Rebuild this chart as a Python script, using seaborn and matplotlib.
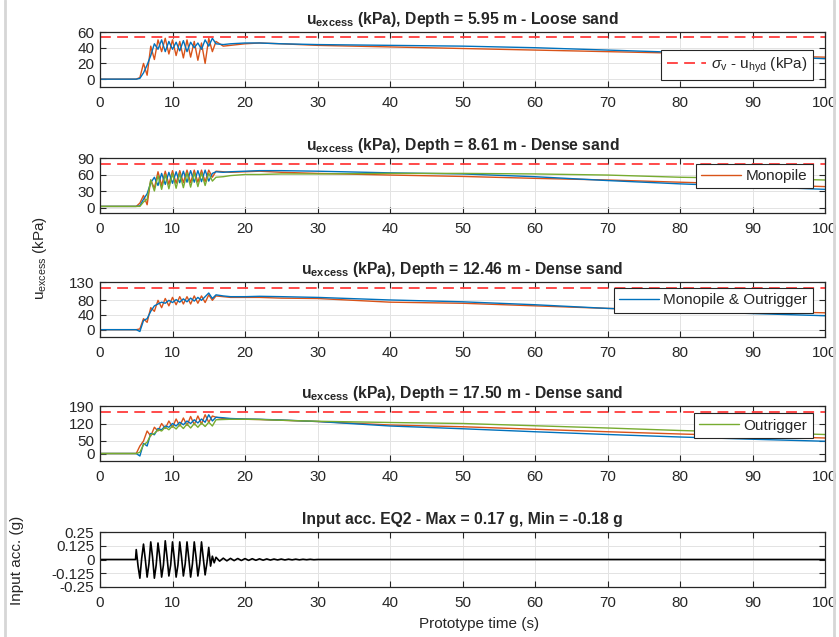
import matplotlib
matplotlib.use("Agg")
import matplotlib.pyplot as plt
import seaborn as sns
from matplotlib.lines import Line2D

# ---------------- data ----------------
T = [0, 5.0, 5.5, 6.0, 6.5, 7.0, 7.5, 8.0, 8.5, 9.0, 9.5, 10.0, 10.5, 11.0, 11.5,
     12.0, 12.5, 13.0, 13.5, 14.0, 14.5, 15.0, 15.5, 16.0,
     17, 18, 20, 22, 25, 30, 40, 50, 60, 70, 80, 90, 100]

# Depth 5.95 m - Loose sand
d1_monopile = [0, 0, 2, 20, 5, 42, 25, 50, 35, 52, 32, 50, 30, 48, 27, 50, 28, 48, 24, 46, 20, 52, 35, 48,
               42, 43, 45, 46, 45, 43, 41, 39, 37, 35, 33, 30, 28]
d1_mono_outr = [0, 0, 1, 8, 18, 30, 45, 38, 50, 35, 48, 38, 47, 36, 49, 35, 47, 40, 46, 38, 50, 42, 52, 45,
                44, 45, 46, 46, 45, 44, 43, 42, 40, 37, 34, 30, 26]
# Depth 8.61 m - Dense sand
d2_monopile = [2, 2, 8, 22, 5, 50, 35, 65, 40, 66, 42, 67, 44, 67, 45, 68, 45, 68, 46, 68, 47, 68, 55, 66,
               65, 64, 65, 66, 64, 62, 59, 56.5, 53, 50, 46, 42, 38]
d2_mono_outr = [2, 2, 3, 15, 25, 45, 55, 40, 62, 42, 64, 44, 65, 45, 66, 46, 67, 46, 67, 47, 68, 48, 62, 65,
                64, 65, 66, 67, 67, 66, 63, 61, 56, 49, 43, 38, 33]
d2_outrigger = [2, 2, 2, 10, 15, 50, 30, 58, 33, 60, 34, 62, 35, 62, 36, 63, 37, 63, 38, 63, 40, 62, 48, 55,
                56, 58, 60, 60, 61, 61, 62, 62, 61, 59, 55, 53, 50]
# Depth 12.46 m - Dense sand
d3_monopile = [0, 0, 2, 30, 20, 60, 50, 80, 60, 85, 65, 88, 68, 90, 70, 90, 70, 92, 72, 92, 74, 95, 80, 92,
               90, 88, 88, 88, 86, 85, 75, 72, 65, 58, 54, 50, 46]
d3_mono_outr = [0, 0, -5, 25, 30, 50, 65, 70, 75, 72, 80, 74, 82, 75, 84, 76, 86, 78, 88, 80, 90, 100, 85, 95,
                92, 90, 90, 91, 90, 88, 81, 76, 68, 58, 50, 44, 38]
# Depth 17.50 m - Dense sand
d4_monopile = [0, 0, 30, 50, 90, 70, 105, 90, 120, 100, 130, 105, 138, 110, 142, 112, 148, 115, 150, 118, 155, 125, 150, 145,
               140, 138, 137, 136, 133, 128, 114, 107, 97, 87, 78, 70, 62]
d4_mono_outr = [0, 0, -10, 40, 30, 80, 75, 100, 95, 110, 105, 120, 110, 125, 115, 130, 120, 135, 122, 138, 125, 155, 130, 145,
                143, 140, 138, 137, 134, 128, 110, 99, 87, 76, 66, 57, 49]
d4_outrigger = [0, 0, 5, 35, 45, 75, 80, 95, 90, 105, 95, 110, 98, 115, 100, 118, 102, 120, 105, 122, 108, 125, 110, 135,
                136, 137, 137, 136, 133, 129, 124, 120, 111, 102, 92, 84, 76]

# effective vertical stress (sigma_v - u_hyd) per depth
sigma_eff = [53.6, 78.7, 114.5, 167.0]

depth_titles = [
    r"u$_{\mathbf{excess}}$ (kPa), Depth = 5.95 m - Loose sand",
    r"u$_{\mathbf{excess}}$ (kPa), Depth = 8.61 m - Dense sand",
    r"u$_{\mathbf{excess}}$ (kPa), Depth = 12.46 m - Dense sand",
    r"u$_{\mathbf{excess}}$ (kPa), Depth = 17.50 m - Dense sand",
]
yticks_list = [[0, 20, 40, 60], [0, 30, 60, 90], [0, 40, 80, 130], [0, 50, 120, 190]]
ylims_list = [(-10, 60), (-10, 90), (-20, 130), (-30, 190)]

acc_time = [0.0, 4.9, 5.0, 5.25, 5.5, 5.75, 6.0, 6.25, 6.5, 6.75, 7.0, 7.25, 7.5, 7.75, 8.0, 8.25, 8.5, 8.75,
            9.0, 9.25, 9.5, 9.75, 10.0, 10.25, 10.5, 10.75, 11.0, 11.25, 11.5, 11.75, 12.0, 12.25, 12.5, 12.75,
            13.0, 13.25, 13.5, 13.75, 14.0, 14.25, 14.5, 14.75, 15.0, 15.25, 15.5, 15.75, 16.0,
            16.5, 17.0, 17.5, 18.0, 18.5, 19.0, 19.5, 20.0, 20.5, 21.0, 21.5, 22.0, 22.5, 23.0, 23.5, 24.0,
            24.5, 25.0, 25.5, 26.0, 26.5, 27.0, 27.5, 28.0, 28.5, 29.0, 29.5, 30.0, 100.0]
acc_g = [0.0, 0.0,
         0.09, -0.06, -0.17, 0.01, 0.14, 0.00, -0.16, -0.04, 0.16, 0.02, -0.17, -0.05, 0.15, 0.02, -0.16, -0.05,
         0.17, 0.02, -0.15, -0.05, 0.16, 0.01, -0.16, -0.05, 0.16, 0.02, -0.15, -0.04, 0.16, 0.01, -0.16, -0.04,
         0.16, 0.02, -0.15, -0.04, 0.16, 0.01, -0.14, -0.03, 0.11, -0.06, 0.03, -0.03, 0.02,
         -0.015, 0.012, -0.012, 0.01, -0.01, 0.009, -0.009, 0.008, -0.008, 0.007, -0.007, 0.006, -0.006, 0.005,
         -0.005, 0.004, -0.004, 0.004, -0.004, 0.003, -0.003, 0.003, -0.003, 0.002, -0.002, 0.002, -0.002, 0.0,
         0.0]
acc_yticks = [-0.25, -0.125, 0, 0.125, 0.25]
acc_yticklabels = ["-0.25", "-0.125", "0", "0.125", "0.25"]
x_ticks = [0, 10, 20, 30, 40, 50, 60, 70, 80, 90, 100]

C_MONO = "#D95319"
C_MO = "#0072BD"
C_OUT = "#77AC30"

panels = [
    [(d1_monopile, C_MONO), (d1_mono_outr, C_MO)],
    [(d2_monopile, C_MONO), (d2_mono_outr, C_MO), (d2_outrigger, C_OUT)],
    [(d3_monopile, C_MONO), (d3_mono_outr, C_MO)],
    [(d4_monopile, C_MONO), (d4_mono_outr, C_MO), (d4_outrigger, C_OUT)],
]

# ---------------- style ----------------
sns.set_style("ticks")
plt.rcParams['font.family'] = ['Liberation Sans', 'DejaVu Sans']
plt.rcParams['mathtext.fontset'] = 'custom'
plt.rcParams['mathtext.rm'] = 'Liberation Sans'
plt.rcParams['mathtext.it'] = 'Liberation Sans:italic'
plt.rcParams['mathtext.bf'] = 'Liberation Sans:bold'

W, H = 839, 637
fig = plt.figure(figsize=(W / 100, H / 100), dpi=100)
fig.patch.set_facecolor("white")

left_px, right_px = 100, 825
bottoms_px = [87, 213, 337, 461, 587]
ax_h_px = 55

def make_ax(bpx):
    return fig.add_axes([left_px / W, 1 - bpx / H, (right_px - left_px) / W, ax_h_px / H])

def style_ax(ax):
    ax.set_xlim(0, 100)
    ax.set_xticks(x_ticks)
    ax.grid(True, color="#E3E3E3", lw=0.7)
    ax.set_axisbelow(True)
    ax.tick_params(direction="in", top=True, right=True, length=4, width=0.8,
                   colors="#262626", labelsize=11)
    ax.tick_params(axis="x", pad=6.5)
    ax.tick_params(axis="y", pad=4)
    for s in ax.spines.values():
        s.set_visible(True)
        s.set_color("#262626")
        s.set_linewidth(0.9)
    ax.set_xlabel("")
    ax.set_ylabel("")

legend_specs = [
    r"$\mathit{\sigma}_{\rm v}$ - u$_{\rm hyd}$ (kPa)",
    "Monopile",
    "Monopile & Outrigger",
    "Outrigger",
]
legend_ybot = [0.127, 0.45, 0.44, 0.42]

for i in range(4):
    ax = make_ax(bottoms_px[i])
    style_ax(ax)
    handles = {}
    for j, (vals, col) in enumerate(panels[i]):
        sns.lineplot(x=T, y=vals, ax=ax, color=col, lw=1.0, estimator=None, sort=False)
        handles[j] = ax.lines[-1]
    sns.lineplot(x=[0, 100], y=[sigma_eff[i], sigma_eff[i]], ax=ax, color="#FF3B3B",
                 lw=1.3, estimator=None)
    ax.lines[-1].set_dashes((6, 3.5))
    dash_line = ax.lines[-1]
    ax.set_ylim(*ylims_list[i])
    ax.set_yticks(yticks_list[i])
    ax.set_title(depth_titles[i], fontsize=11.3, fontweight="bold", pad=6)
    if i == 0:
        h = dash_line
    elif i == 1:
        h = handles[0]
    elif i == 2:
        h = handles[1]
    else:
        h = handles[2]
    leg = ax.legend([h], [legend_specs[i]], loc="lower right", bbox_to_anchor=(0.983, legend_ybot[i]),
                    borderaxespad=0, fancybox=False, framealpha=1, edgecolor="#262626",
                    fontsize=11, handlelength=2.6, handletextpad=0.3, borderpad=0.35)
    leg.get_frame().set_linewidth(0.8)
    ax.set_xlabel("")
    ax.set_ylabel("")

ax5 = make_ax(bottoms_px[4])
style_ax(ax5)
sns.lineplot(x=acc_time, y=acc_g, ax=ax5, color="black", lw=1.2, estimator=None, sort=False)
ax5.set_ylim(-0.25, 0.25)
ax5.set_yticks(acc_yticks)
ax5.set_yticklabels(acc_yticklabels)
ax5.set_title("Input acc. EQ2 - Max = 0.17 g, Min = -0.18 g", fontsize=11.3, fontweight="bold", pad=6)
ax5.set_xlabel("")
ax5.set_ylabel("")

fig.text(40 / W, 1 - 258 / H, r"u$_{\rm excess}$ (kPa)", rotation=90, ha="center", va="center",
         fontsize=11, color="#262626")
fig.text(17.5 / W, 1 - 560 / H, "Input acc. (g)", rotation=90, ha="center", va="center",
         fontsize=11, color="#262626")
fig.text(479 / W, 1 - 624 / H, "Prototype time (s)", ha="center", va="center",
         fontsize=11, color="#262626")

# light page border strips
fig.add_artist(Line2D([4.5 / W, 4.5 / W], [0, 1], color="#D6D6D6", lw=2, transform=fig.transFigure))
fig.add_artist(Line2D([834 / W, 834 / W], [0, 1], color="#D6D6D6", lw=2, transform=fig.transFigure))

fig.savefig("out.png", dpi=100, facecolor="white")
